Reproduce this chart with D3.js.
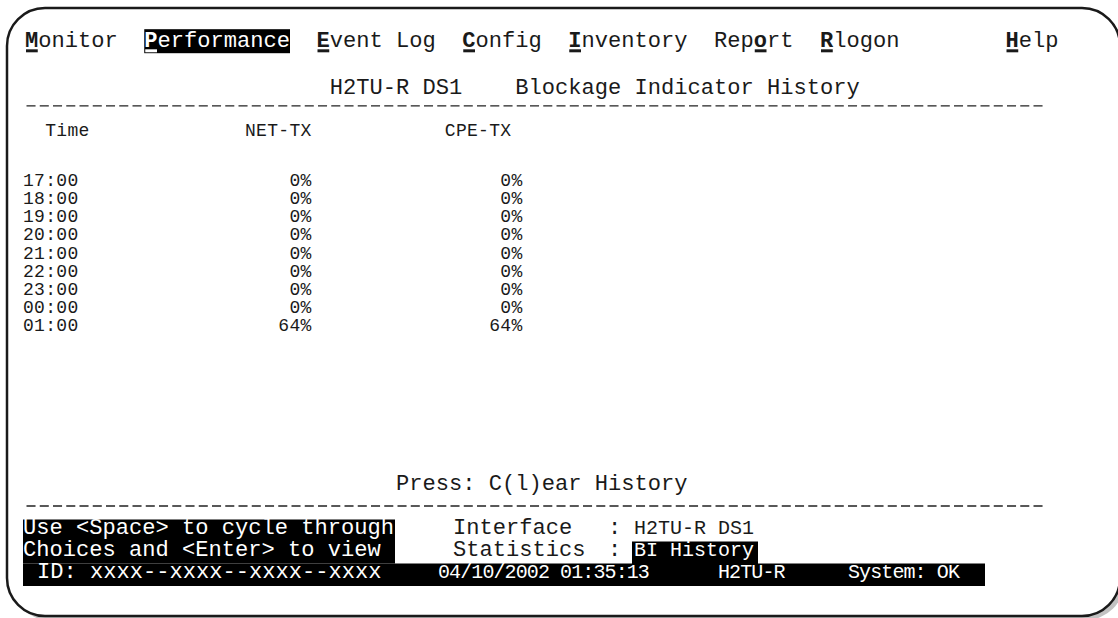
<!DOCTYPE html>
<html>
<head>
<meta charset="utf-8">
<script src="https://cdn.jsdelivr.net/npm/d3@7"></script>
<style>
body { margin: 0; background: #fff; }
svg text { font-family: "Liberation Mono", "DejaVu Sans Mono", monospace; font-size: 22.08px; fill: #1a1a1a; white-space: pre; }
svg text.tbl { font-size: 18px; letter-spacing: 0.3px; }
svg text.narrow { font-size: 20px; letter-spacing: -0.9px; }
svg text.val { font-size: 20px; }
</style>
</head>
<body>
<div id="screen"></div>
<script>
// screen contents
const menuLabels = ['Monitor', 'Performance', 'Event Log', 'Config', 'Inventory', 'Report', 'Rlogon', 'Help'];
const menuHotkeys = [0, 0, 0, 0, 0, 3, 0, 0];
const activeMenu = 'Performance';

const titleParts = ['H2TU-R DS1', 'Blockage Indicator History'];
const columns = ['Time', 'NET-TX', 'CPE-TX'];

const times = ['17:00', '18:00', '19:00', '20:00', '21:00', '22:00', '23:00', '00:00', '01:00'];
const netTx = [0, 0, 0, 0, 0, 0, 0, 0, 64];
const cpeTx = [0, 0, 0, 0, 0, 0, 0, 0, 64];

const prompt = 'Press: C(l)ear History';
const helpLines = ['Use <Space> to cycle through', 'Choices and <Enter> to view'];
const infoLabels = ['Interface', 'Statistics'];
const infoValues = ['H2TU-R DS1', 'BI History'];
const statusParts = ['ID: xxxx--xxxx--xxxx--xxxx', '04/10/2002 01:35:13', 'H2TU-R', 'System: OK'];

// terminal grid
const width = 1118;
const height = 618;
const charW = 13.25;
const rowH = 23.3;
const tblW = 11.1;

const x = d3.scaleLinear().domain([0, 80]).range([25, 25 + 80 * charW]);
const y = d3.scaleLinear().domain([0, 24]).range([47, 47 + 24 * rowH]);
const tx = d3.scaleLinear().domain([0, 80]).range([23, 23 + 80 * tblW]);

const svg = d3.select('#screen')
    .append('svg')
    .attr('width', width)
    .attr('height', height);

// frame with shadow
svg.append('rect')
    .attr('x', 11).attr('y', 12)
    .attr('width', 1113).attr('height', 608)
    .attr('rx', 38)
    .attr('fill', '#c2c2c2');

svg.append('rect')
    .attr('x', 7).attr('y', 8)
    .attr('width', 1113).attr('height', 608)
    .attr('rx', 38)
    .attr('fill', '#fff')
    .attr('stroke', '#1a1a1a')
    .attr('stroke-width', 2.5);

const screen = svg.append('g');

function box(x0, x1, top, h) {
    screen.append('rect')
        .attr('x', x0).attr('y', top)
        .attr('width', x1 - x0).attr('height', h)
        .attr('fill', '#000');
}

function put(px, py, str, color) {
    return screen.append('text')
        .attr('x', px)
        .attr('y', py)
        .style('fill', color || '#1a1a1a')
        .text(str);
}

// menu bar
let col = 0;
const menuCols = menuLabels.map((m, i) => {
    const c = i === menuLabels.length - 1 ? 74 : col;
    col += m.length + 2;
    return c;
});

menuLabels.forEach((m, i) => {
    const c = menuCols[i];
    const on = m === activeMenu;
    const color = on ? '#fff' : '#1a1a1a';
    if (on) box(x(c), x(c + m.length), y(0) - 17.8, 24);
    const k = menuHotkeys[i];
    const t = screen.append('text')
        .attr('x', x(c))
        .attr('y', y(0))
        .style('fill', color);
    t.append('tspan').text(m.slice(0, k));
    t.append('tspan').attr('font-weight', 'bold').text(m[k]);
    t.append('tspan').text(m.slice(k + 1));
    screen.append('rect')
        .attr('x', x(c + k) + 1)
        .attr('y', y(0) + 2.3)
        .attr('width', charW - 1.5)
        .attr('height', 3)
        .attr('fill', color);
});

// title
put(x(23), y(2), titleParts[0]);
put(x(37), y(2), titleParts[1]);

// rules
[y(3) - 11, y(20) - 7].forEach(ly => {
    screen.append('line')
        .attr('x1', x(0) + 1.5)
        .attr('x2', x(77))
        .attr('y1', ly)
        .attr('y2', ly)
        .attr('stroke', '#222')
        .attr('stroke-width', 1.4)
        .attr('stroke-dasharray', `${charW - 4.2} 4.2`);
});

// table header
const headCols = [2, 20, 38];
columns.forEach((h, i) => put(tx(headCols[i]), 136, h).attr('class', 'tbl'));

// table rows
const rowScale = d3.scalePoint()
    .domain(times)
    .range([186, 331]);

const fmt = v => v + '%';

screen.selectAll('text.time')
    .data(times)
    .enter().append('text')
    .attr('class', 'tbl time')
    .attr('x', tx(0))
    .attr('y', d => rowScale(d))
    .text(d => d);

screen.selectAll('text.net')
    .data(netTx)
    .enter().append('text')
    .attr('class', 'tbl net')
    .attr('x', tx(26))
    .attr('y', (d, i) => rowScale(times[i]))
    .attr('text-anchor', 'end')
    .text(fmt);

screen.selectAll('text.cpe')
    .data(cpeTx)
    .enter().append('text')
    .attr('class', 'tbl cpe')
    .attr('x', tx(45))
    .attr('y', (d, i) => rowScale(times[i]))
    .attr('text-anchor', 'end')
    .text(fmt);

// prompt
put(x(28), y(19), prompt);

// status area
const sy = [534, 556, 578];
const sTop = sy.map(v => v - 14.5);

box(23, 395, sTop[0], sTop[2] - sTop[0]);
box(23, 985, sTop[2], 22.5);
box(632, 758, sTop[1], 22.5);

helpLines.forEach((s, i) => {
    put(23, sy[i], s, '#fff');
    put(453, sy[i], infoLabels[i]);
    put(608, sy[i], ':');
});
put(634, sy[0], infoValues[0]).attr('class', 'val');
put(634, sy[1], infoValues[1], '#fff').attr('class', 'val');

put(37, sy[2], statusParts[0], '#fff');
const statusX = [438, 718, 848];
statusParts.slice(1).forEach((s, i) => put(statusX[i], sy[2], s, '#fff').attr('class', 'narrow'));
</script>
</body>
</html>
